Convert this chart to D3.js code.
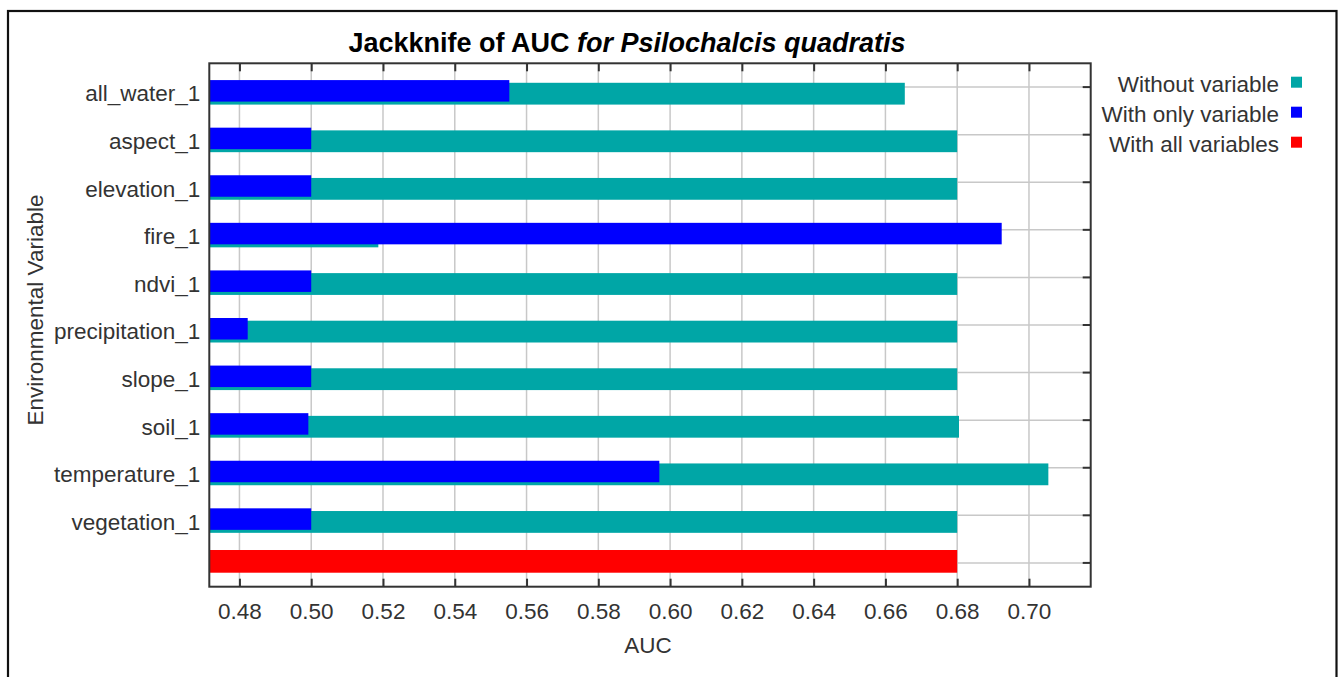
<!DOCTYPE html>
<html>
<head>
<meta charset="utf-8">
<script src="https://cdn.jsdelivr.net/npm/d3@7"></script>
<style>
  html, body { margin: 0; padding: 0; background: #fff; }
  svg { display: block; font-family: "Liberation Sans", Arial, sans-serif; }
</style>
</head>
<body>
<svg id="chart" width="1339" height="677"></svg>
<script>
// Jackknife test of variable importance (training AUC)
const variables = [
  "all_water_1", "aspect_1", "elevation_1", "fire_1", "ndvi_1",
  "precipitation_1", "slope_1", "soil_1", "temperature_1", "vegetation_1"
];
const withoutVariable  = [0.6654, 0.680, 0.680, 0.5187, 0.680, 0.680, 0.680, 0.6805, 0.7054, 0.680];
const withOnlyVariable = [0.5552, 0.500, 0.500, 0.6924, 0.500, 0.4823, 0.500, 0.4992, 0.5970, 0.500];
const withAllVariables = 0.680;
const xTicks = [0.48, 0.50, 0.52, 0.54, 0.56, 0.58, 0.60, 0.62, 0.64, 0.66, 0.68, 0.70];
const xDomain = [0.4716, 0.7172];

const legendItems = [
  { label: "Without variable",   color: "#00a6a6" },
  { label: "With only variable", color: "#0000ff" },
  { label: "With all variables", color: "#ff0000" }
];

const svg = d3.select("#chart");
const plot = { left: 209.3, top: 63.3, right: 1090.7, bottom: 586.7 };
const textColor = "#333";
const fontSize = 22.5;

// outer frame
svg.append("rect")
  .attr("x", 8).attr("y", 11).attr("width", 1328.5).attr("height", 700)
  .attr("fill", "none").attr("stroke", "#111").attr("stroke-width", 2.2);

const x = d3.scaleLinear().domain(xDomain).range([plot.left, plot.right]);
const rows = [...variables, "__all__"];
const y = d3.scaleBand().domain(rows).range([plot.top, plot.bottom]);
const cy = d => y(d) + y.bandwidth() / 2;

// grid
const grid = svg.append("g").attr("stroke", "#c8c8c8").attr("stroke-width", 1.5);
grid.selectAll("line.v").data(xTicks).join("line").attr("class", "v")
  .attr("x1", d => x(d)).attr("x2", d => x(d))
  .attr("y1", plot.top).attr("y2", plot.bottom);
grid.selectAll("line.h").data(rows).join("line").attr("class", "h")
  .attr("x1", plot.left).attr("x2", plot.right)
  .attr("y1", d => cy(d)).attr("y2", d => cy(d));

// bars: without variable (behind), with only variable (front)
const bars = svg.append("g");
bars.selectAll("rect.without").data(variables).join("rect").attr("class", "without")
  .attr("x", x(xDomain[0]))
  .attr("y", d => cy(d) - 4.3)
  .attr("width", (d, i) => x(withoutVariable[i]) - x(xDomain[0]))
  .attr("height", 21.8)
  .attr("fill", legendItems[0].color);
bars.selectAll("rect.only").data(variables).join("rect").attr("class", "only")
  .attr("x", x(xDomain[0]))
  .attr("y", d => cy(d) - 7)
  .attr("width", (d, i) => x(withOnlyVariable[i]) - x(xDomain[0]))
  .attr("height", 21.5)
  .attr("fill", legendItems[1].color);
bars.append("rect")
  .attr("x", x(xDomain[0]))
  .attr("y", cy("__all__") - 12.9)
  .attr("width", x(withAllVariables) - x(xDomain[0]))
  .attr("height", 22.7)
  .attr("fill", legendItems[2].color);

// plot frame
svg.append("rect")
  .attr("x", plot.left).attr("y", plot.top)
  .attr("width", plot.right - plot.left).attr("height", plot.bottom - plot.top)
  .attr("fill", "none").attr("stroke", "#333").attr("stroke-width", 2);

// inward ticks: bottom, top, right
const bottomAxis = d3.axisBottom(x).tickValues(xTicks).tickSizeInner(-8).tickSizeOuter(0)
  .tickPadding(16).tickFormat(d3.format(".2f"));
const gB = svg.append("g").attr("transform", `translate(0,${plot.bottom})`).call(bottomAxis);
gB.select(".domain").remove();
gB.selectAll(".tick line").attr("stroke", "#333").attr("stroke-width", 2);
gB.selectAll(".tick text").attr("fill", textColor).attr("font-size", fontSize)
  .attr("font-family", "Liberation Sans, Arial, sans-serif");

const topAxis = d3.axisTop(x).tickValues(xTicks).tickSizeInner(-8).tickSizeOuter(0).tickFormat("");
const gT = svg.append("g").attr("transform", `translate(0,${plot.top})`).call(topAxis);
gT.select(".domain").remove();
gT.selectAll(".tick line").attr("stroke", "#333").attr("stroke-width", 2);

const rightAxis = d3.axisRight(y).tickSizeInner(-8).tickSizeOuter(0).tickFormat("");
const gR = svg.append("g").attr("transform", `translate(${plot.right},0)`).call(rightAxis);
gR.select(".domain").remove();
gR.selectAll(".tick line").attr("stroke", "#333").attr("stroke-width", 2);

// category labels
const leftAxis = d3.axisLeft(y).tickSize(0).tickPadding(9)
  .tickFormat(d => d === "__all__" ? "" : d);
const gL = svg.append("g").attr("transform", `translate(${plot.left},0)`).call(leftAxis);
gL.select(".domain").remove();
gL.selectAll(".tick text").attr("fill", textColor).attr("font-size", fontSize)
  .attr("font-family", "Liberation Sans, Arial, sans-serif")
  .attr("dy", "0.35em").attr("y", 6.5);

// axis titles
svg.append("text")
  .attr("x", (plot.left + plot.right) / 2 - 2).attr("y", 653)
  .attr("text-anchor", "middle").attr("fill", textColor).attr("font-size", fontSize)
  .text("AUC");
svg.append("text")
  .attr("transform", `translate(43,310) rotate(-90)`)
  .attr("text-anchor", "middle").attr("fill", textColor).attr("font-size", fontSize)
  .text("Environmental Variable");

// title
const title = svg.append("text")
  .attr("x", 627).attr("y", 52.3)
  .attr("text-anchor", "middle").attr("fill", "#000")
  .attr("font-size", 27).attr("font-weight", "bold");
title.append("tspan").text("Jackknife of AUC ");
title.append("tspan").attr("font-style", "italic").text("for Psilochalcis quadratis");

// legend
const legend = svg.append("g");
legendItems.forEach((item, i) => {
  const ly = 91.7 + i * 30;
  legend.append("text")
    .attr("x", 1279).attr("y", ly)
    .attr("text-anchor", "end").attr("fill", textColor).attr("font-size", fontSize)
    .text(item.label);
  legend.append("rect")
    .attr("x", 1291).attr("y", ly - 15).attr("width", 11).attr("height", 11)
    .attr("fill", item.color);
});
</script>
</body>
</html>
